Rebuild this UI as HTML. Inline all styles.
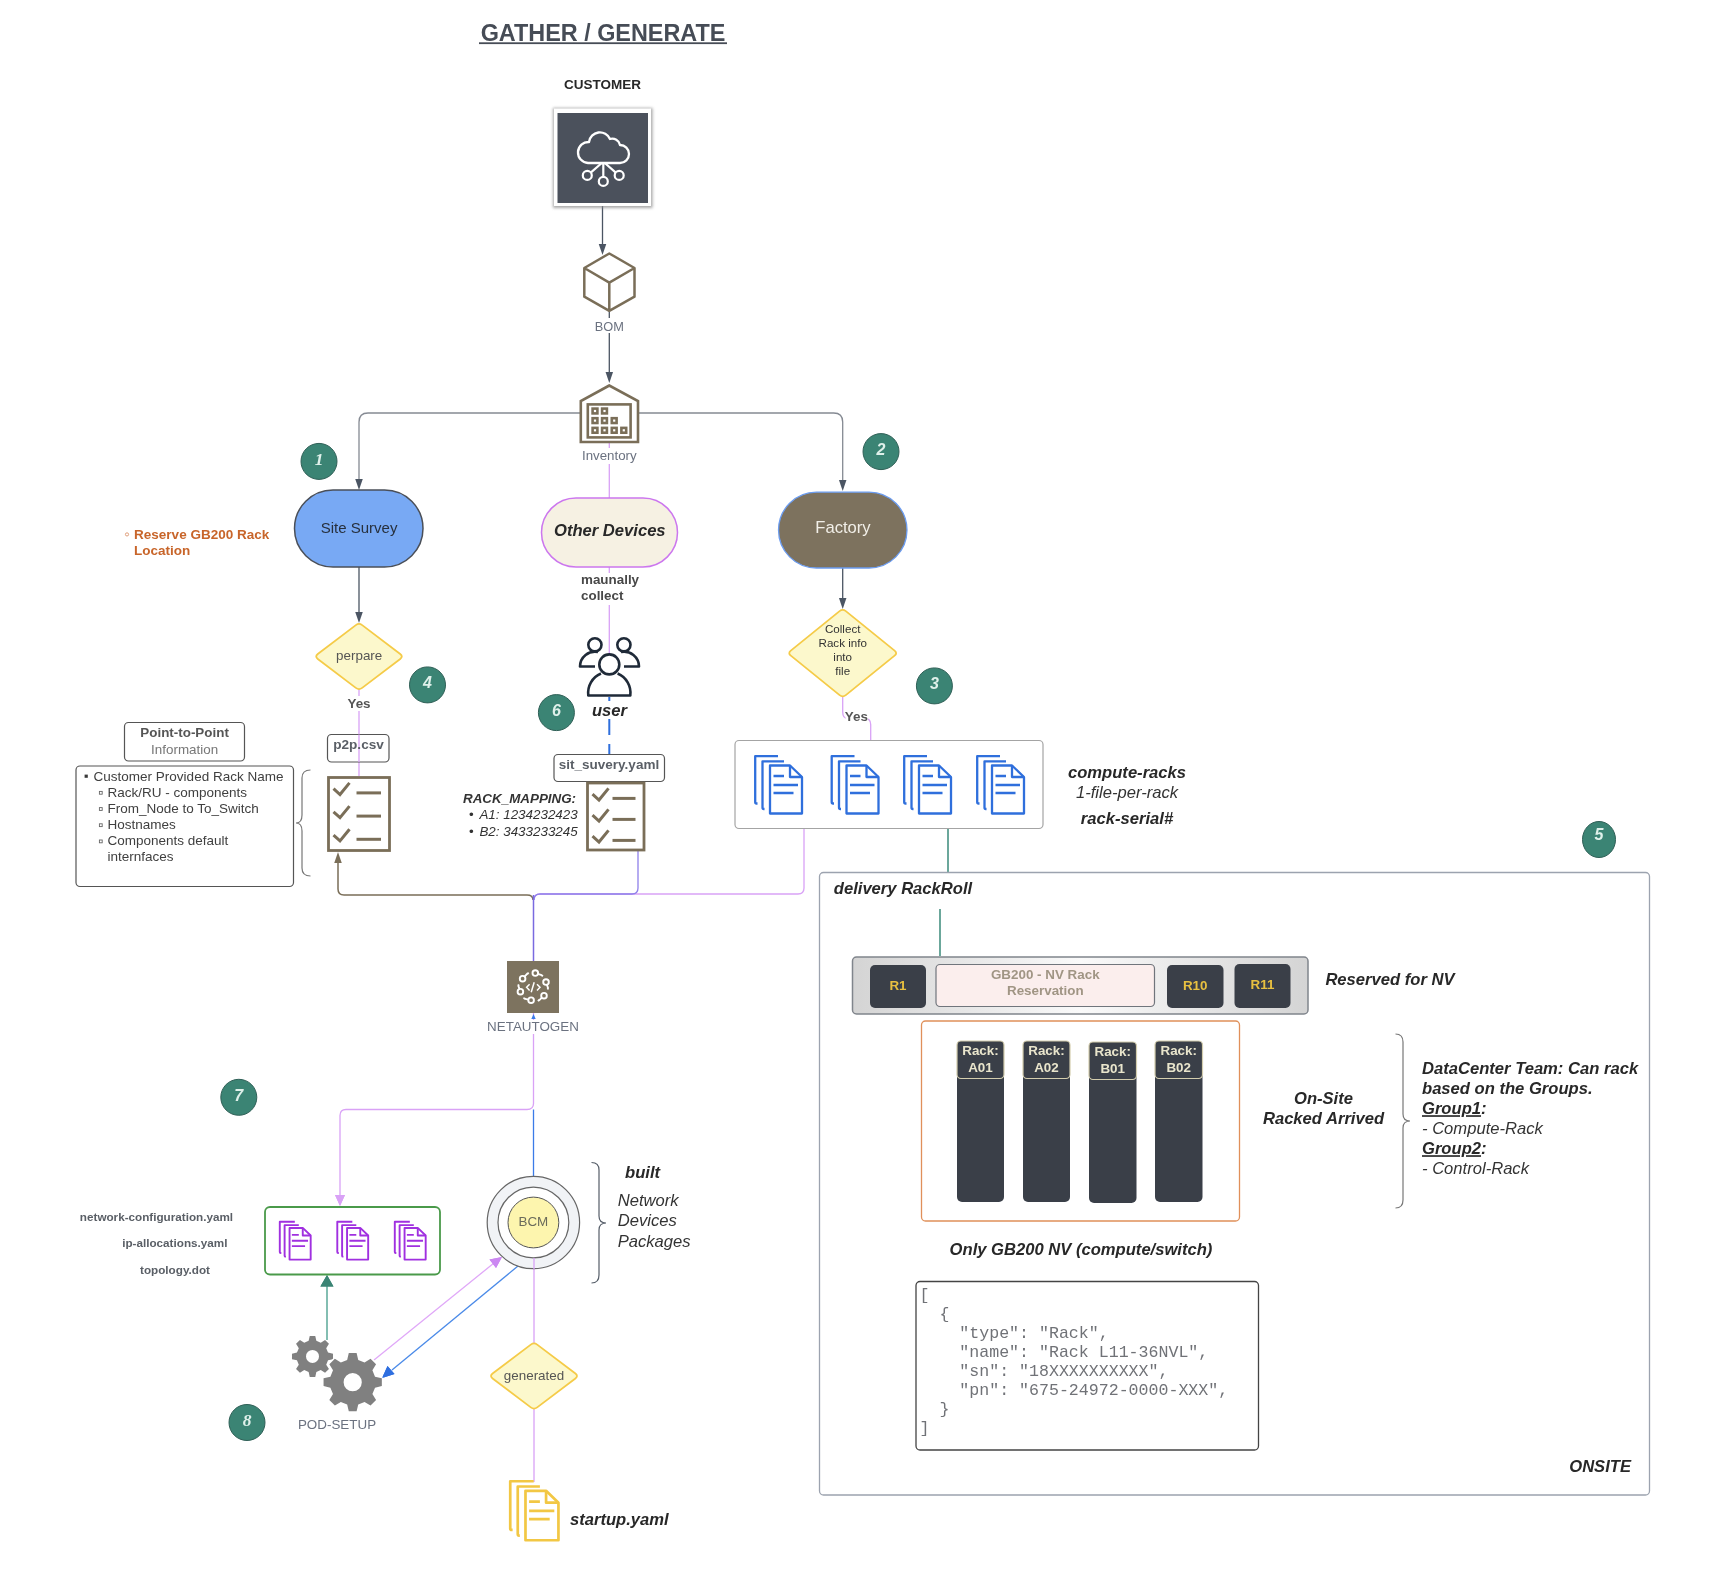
<!DOCTYPE html>
<html><head><meta charset="utf-8"><style>
html,body{margin:0;padding:0;background:#fff;}
svg{display:block;will-change:transform;}
text{font-family:"Liberation Sans",sans-serif;}
</style></head><body>
<svg width="1716" height="1596" viewBox="0 0 1716 1596">
<defs>
<filter id="blur" x="-10%" y="-10%" width="120%" height="120%"><feGaussianBlur stdDeviation="1.5"/></filter>
<linearGradient id="tray" x1="0" y1="0" x2="1" y2="0">
<stop offset="0" stop-color="#d4d4d4"/><stop offset="0.5" stop-color="#fafafa"/><stop offset="1" stop-color="#d4d4d4"/>
</linearGradient>
</defs>
<path d="M602.5,206 V246" stroke="#4b5563" stroke-width="1.3" fill="none"/>
<polygon points="598.75,244 606.25,244 602.5,255" fill="#4b5563"/>
<path d="M609.3,311 V374" stroke="#4b5563" stroke-width="1.3" fill="none"/>
<polygon points="605.55,372 613.05,372 609.3,383" fill="#4b5563"/>
<path d="M580,413 H368 Q359,413 359,422 V480" stroke="#858a93" stroke-width="1.3" fill="none"/>
<polygon points="355.25,479 362.75,479 359,490" fill="#4b5563"/>
<path d="M638,413 H833.7 Q842.7,413 842.7,422 V481" stroke="#858a93" stroke-width="1.3" fill="none"/>
<polygon points="838.95,480 846.45,480 842.7,491" fill="#4b5563"/>
<path d="M609.3,443 V498" stroke="#d9a2f6" stroke-width="1.3" fill="none"/>
<path d="M609.3,567 V653" stroke="#d9a2f6" stroke-width="1.3" fill="none"/>
<path d="M359,567 V613" stroke="#4b5563" stroke-width="1.3" fill="none"/>
<polygon points="355.25,612 362.75,612 359,623" fill="#4b5563"/>
<path d="M359,689 V776" stroke="#d9a2f6" stroke-width="1.3" fill="none"/>
<path d="M842.7,568 V599" stroke="#4b5563" stroke-width="1.3" fill="none"/>
<polygon points="838.95,598 846.45,598 842.7,609" fill="#4b5563"/>
<path d="M842.7,697 V712 Q842.7,718.5 848,718.5 H865 Q870.7,718.5 870.7,724.5 V740.5" stroke="#d9a2f6" stroke-width="1.3" fill="none"/>
<path d="M609.3,697 V754" stroke="#2f6fdc" stroke-width="2" stroke-dasharray="16,9" stroke-dashoffset="3" fill="none"/>
<path d="M804,828 V888 Q804,894 798,894 H540 Q534,894 534,900" stroke="#d9a2f6" stroke-width="1.3" fill="none"/>
<path d="M638,850 V888 Q638,894 632,894 H540 Q534,894 534,900" stroke="#8f80ea" stroke-width="1.3" fill="none"/>
<path d="M533,900 Q533,895 527,895 H344 Q338,895 338,889 V862" stroke="#7a6e58" stroke-width="1.5" fill="none"/>
<polygon points="334.25,863 341.75,863 338,852" fill="#7a6e58"/>
<path d="M533.5,895 V961" stroke="#7a6ae0" stroke-width="1.5" fill="none"/>
<path d="M948,828 V872" stroke="#3a8a7a" stroke-width="1.5" fill="none"/>
<path d="M940,909 V956" stroke="#3a8a7a" stroke-width="1.5" fill="none"/>
<path d="M533.5,1013 V1103.5 Q533.5,1109.5 527,1109.5 H346 Q340,1109.5 340,1115.5 V1196" stroke="#d9a2f6" stroke-width="1.3" fill="none"/>
<polygon points="335.0,1195 345.0,1195 340,1206" fill="#d9a2f6"/>
<path d="M533.5,1014 L531.3,1019 H535.7 Z" fill="#3b7be8"/>
<path d="M533.5,1109.5 V1176" stroke="#3b7be8" stroke-width="1.3" fill="none"/>
<path d="M534,1269 V1343 M534,1409 V1482" stroke="#d9a2f6" stroke-width="1.3" fill="none"/>
<path d="M327,1340 V1286" stroke="#5aa898" stroke-width="1.5" fill="none"/>
<polygon points="320.4,1286.6 333.5,1286.6 327,1275" fill="#3a8474"/>
<path d="M374,1360 L494,1263" stroke="#e0a8f8" stroke-width="1.3" fill="none"/>
<polygon points="502,1257 489.5,1259.5 496,1268" fill="#cc88f2"/>
<path d="M518,1266 L392,1370" stroke="#4a8ae8" stroke-width="1.3" fill="none"/>
<polygon points="382.1,1378 387.5,1366 394.5,1374" fill="#2f6fe0"/>
<text x="603" y="40.8" font-size="23.4" font-weight="bold" font-style="normal" fill="#464c56" text-anchor="middle" >GATHER / GENERATE</text>
<rect x="479" y="42.3" width="248" height="1.8" fill="#464c56"/>
<text x="602.5" y="88.8" font-size="13.5" font-weight="bold" font-style="normal" fill="#282828" text-anchor="middle" >CUSTOMER</text>
<rect x="553" y="108" width="99.5" height="100" fill="#8a8a8a" opacity="0.75" filter="url(#blur)"/>
<rect x="554" y="108.5" width="97" height="97.5" fill="#fff"/>
<rect x="557.5" y="113" width="90.5" height="90" fill="#4b515c"/>
<path d="M588,163 H620 A9,9 0 0,0 620,145 A8,8 0 0,0 610,139 A11,11 0 0,0 589,142 A10.5,10.5 0 0,0 588,163 Z" stroke="#fff" stroke-width="2.3" fill="none" stroke-linejoin="round"/>
<path d="M603.3,163 V176.6 M601.8,163 L591,172.4 M604.8,163 L615.5,172.4" stroke="#fff" stroke-width="2.2" fill="none"/>
<circle cx="587.3" cy="175.4" r="4.5" stroke="#fff" stroke-width="2.2" fill="none"/><circle cx="603.3" cy="181.4" r="4.5" stroke="#fff" stroke-width="2.2" fill="none"/><circle cx="619.2" cy="175.4" r="4.5" stroke="#fff" stroke-width="2.2" fill="none"/>
<path d="M609.3,253.5 L584.3,268 V296.7 L609.3,310.8 L634.5,296.7 V268 Z M584.3,268 L609.3,282.6 L634.5,268 M609.3,282.6 V310.8" stroke="#7a6e58" stroke-width="2.5" fill="#fff" stroke-linejoin="round"/>
<rect x="593" y="318" width="33" height="15" fill="#fff"/>
<text x="609.3" y="330.5" font-size="12.8" font-weight="normal" font-style="normal" fill="#6b7280" text-anchor="middle" >BOM</text>
<path d="M609.3,385.5 L580.8,401 V442 H638 V401 Z" stroke="#7a6e58" stroke-width="2.6" fill="#fff" stroke-linejoin="miter"/>
<rect x="587.8" y="404.4" width="42.8" height="33" stroke="#7a6e58" stroke-width="2.6" fill="none"/>
<rect x="592.6" y="408.6" width="4.8" height="4.8" stroke="#7a6e58" stroke-width="2.6" fill="none"/>
<rect x="602.1" y="408.6" width="4.8" height="4.8" stroke="#7a6e58" stroke-width="2.6" fill="none"/>
<rect x="592.6" y="418.20000000000005" width="4.8" height="4.8" stroke="#7a6e58" stroke-width="2.6" fill="none"/>
<rect x="602.1" y="418.20000000000005" width="4.8" height="4.8" stroke="#7a6e58" stroke-width="2.6" fill="none"/>
<rect x="611.8000000000001" y="418.20000000000005" width="4.8" height="4.8" stroke="#7a6e58" stroke-width="2.6" fill="none"/>
<rect x="592.6" y="427.90000000000003" width="4.8" height="4.8" stroke="#7a6e58" stroke-width="2.6" fill="none"/>
<rect x="602.1" y="427.90000000000003" width="4.8" height="4.8" stroke="#7a6e58" stroke-width="2.6" fill="none"/>
<rect x="611.8000000000001" y="427.90000000000003" width="4.8" height="4.8" stroke="#7a6e58" stroke-width="2.6" fill="none"/>
<rect x="621.4" y="427.90000000000003" width="4.8" height="4.8" stroke="#7a6e58" stroke-width="2.6" fill="none"/>
<rect x="579" y="448" width="60" height="16" fill="#fff"/>
<text x="609.3" y="460.4" font-size="13.3" font-weight="normal" font-style="normal" fill="#6b7280" text-anchor="middle" >Inventory</text>
<rect x="294.5" y="490" width="128.5" height="77" rx="38.5" fill="#78a9f4" stroke="#4a4f58" stroke-width="1.5"/>
<text x="359.1" y="532.7" font-size="15" font-weight="normal" font-style="normal" fill="#27303d" text-anchor="middle" >Site Survey</text>
<rect x="541.5" y="498" width="136" height="69" rx="34.5" fill="#f6f1e3" stroke="#cc77ee" stroke-width="1.5"/>
<text x="609.8" y="535.9" font-size="16.6" font-weight="bold" font-style="italic" fill="#282828" text-anchor="middle" >Other Devices</text>
<rect x="778.5" y="492.2" width="128.5" height="75.8" rx="37.9" fill="#7d725e" stroke="#6b9cf0" stroke-width="1.3"/>
<text x="843" y="533" font-size="16.6" font-weight="normal" font-style="normal" fill="#f2efe8" text-anchor="middle" >Factory</text>
<circle cx="127" cy="534.4" r="1.6" fill="none" stroke="#d88a60" stroke-width="0.8"/>
<text x="134.1" y="538.5" font-size="13.5" font-weight="bold" font-style="normal" fill="#c8652a" text-anchor="start" >Reserve GB200 Rack</text>
<text x="134.1" y="554.8" font-size="13.5" font-weight="bold" font-style="normal" fill="#c8652a" text-anchor="start" >Location</text>
<rect x="579" y="573" width="62" height="32" fill="#fff"/>
<text x="581" y="584.4" font-size="13.4" font-weight="bold" font-style="normal" fill="#484848" text-anchor="start" >maunally</text>
<text x="581" y="600.2" font-size="13.4" font-weight="bold" font-style="normal" fill="#484848" text-anchor="start" >collect</text>
<path d="M355.82,625.12 Q359.00,622.70 362.18,625.12 L400.22,654.08 Q403.40,656.50 400.22,658.92 L362.18,687.88 Q359.00,690.30 355.82,687.88 L317.78,658.92 Q314.60,656.50 317.78,654.08 Z" fill="#fcf8cc" stroke="#f5cb48" stroke-width="1.8" stroke-linejoin="round"/>
<text x="359.2" y="660.4" font-size="13.4" font-weight="normal" font-style="normal" fill="#555" text-anchor="middle" >perpare</text>
<rect x="345" y="696" width="28" height="15" fill="#fff"/>
<text x="359" y="708.2" font-size="13.4" font-weight="bold" font-style="normal" fill="#555" text-anchor="middle" >Yes</text>
<path d="M839.59,611.17 Q842.70,608.65 845.81,611.17 L894.59,650.63 Q897.70,653.15 894.59,655.67 L845.81,695.13 Q842.70,697.65 839.59,695.13 L790.81,655.67 Q787.70,653.15 790.81,650.63 Z" fill="#fcf8cc" stroke="#f5cb48" stroke-width="1.8" stroke-linejoin="round"/>
<text x="842.7" y="633.4" font-size="11.6" font-weight="normal" font-style="normal" fill="#333" text-anchor="middle" >Collect</text>
<text x="842.7" y="647.4" font-size="11.6" font-weight="normal" font-style="normal" fill="#333" text-anchor="middle" >Rack info</text>
<text x="842.7" y="661.4" font-size="11.6" font-weight="normal" font-style="normal" fill="#333" text-anchor="middle" >into</text>
<text x="842.7" y="675.4" font-size="11.6" font-weight="normal" font-style="normal" fill="#333" text-anchor="middle" >file</text>
<rect x="845.5" y="706" width="22.5" height="16" fill="#fff"/>
<text x="856.4" y="720.5" font-size="13.4" font-weight="bold" font-style="normal" fill="#555" text-anchor="middle" >Yes</text>
<g stroke="#1f2a38" stroke-width="2.6" fill="none" stroke-linejoin="round"><circle cx="594.9" cy="644.8" r="6.6"/><circle cx="623.9" cy="644.8" r="6.6"/><path d="M598,652 A15,15 0 0,0 580,666.5 H595"/><path d="M621,652 A15,15 0 0,1 639,666.5 H624"/><circle cx="609.3" cy="664.4" r="10"/><path d="M601,673.5 A21,21 0 0,0 588.3,695.5 H630.3 A21,21 0 0,0 617.6,673.5"/></g>
<rect x="590" y="701" width="40" height="18" fill="#fff"/>
<text x="609.5" y="716.2" font-size="16.6" font-weight="bold" font-style="italic" fill="#282828" text-anchor="middle" >user</text>
<circle cx="319" cy="461.4" r="18" fill="#3b8474" stroke="#2f5f56" stroke-width="1"/>
<text x="319" y="464.7" font-size="17.5" font-weight="bold" font-style="italic" fill="#dff0ea" text-anchor="middle" style="font-family:Liberation Serif">1</text>
<circle cx="881" cy="451.6" r="18" fill="#3b8474" stroke="#2f5f56" stroke-width="1"/>
<text x="881" y="454.90000000000003" font-size="16" font-weight="bold" font-style="italic" fill="#dff0ea" text-anchor="middle" >2</text>
<circle cx="934.4" cy="685.9" r="18" fill="#3b8474" stroke="#2f5f56" stroke-width="1"/>
<text x="934.4" y="689.1999999999999" font-size="16" font-weight="bold" font-style="italic" fill="#dff0ea" text-anchor="middle" >3</text>
<circle cx="427.5" cy="684.9" r="18" fill="#3b8474" stroke="#2f5f56" stroke-width="1"/>
<text x="427.5" y="688.1999999999999" font-size="16" font-weight="bold" font-style="italic" fill="#dff0ea" text-anchor="middle" >4</text>
<ellipse cx="1599" cy="839.5" rx="16.5" ry="18" fill="#3b8474" stroke="#2f5f56" stroke-width="1"/>
<text x="1599" y="839.5" font-size="16" font-weight="bold" font-style="italic" fill="#dff0ea" text-anchor="middle" >5</text>
<circle cx="556.4" cy="712.6" r="18" fill="#3b8474" stroke="#2f5f56" stroke-width="1"/>
<text x="556.4" y="715.9" font-size="16" font-weight="bold" font-style="italic" fill="#dff0ea" text-anchor="middle" >6</text>
<circle cx="238.8" cy="1097.3" r="18" fill="#3b8474" stroke="#2f5f56" stroke-width="1"/>
<text x="238.8" y="1100.6" font-size="16" font-weight="bold" font-style="italic" fill="#dff0ea" text-anchor="middle" >7</text>
<circle cx="247" cy="1422.5" r="18" fill="#3b8474" stroke="#2f5f56" stroke-width="1"/>
<text x="247" y="1425.8" font-size="17.5" font-weight="bold" font-style="italic" fill="#dff0ea" text-anchor="middle" style="font-family:Liberation Serif">8</text>
<rect x="124.5" y="722.5" width="120" height="38.5" rx="4" fill="#fff" stroke="#555" stroke-width="1.2"/>
<text x="184.6" y="737.3" font-size="13.4" font-weight="bold" font-style="normal" fill="#555" text-anchor="middle" >Point-to-Point</text>
<text x="184.6" y="753.7" font-size="13.4" font-weight="normal" font-style="normal" fill="#777" text-anchor="middle" >Information</text>
<rect x="76" y="766" width="217.5" height="120.5" rx="4" fill="#fff" stroke="#555" stroke-width="1.2"/>
<rect x="84.6" y="774.6" width="3.2" height="3.2" fill="#3a3a3a"/>
<text x="93.6" y="780.6" font-size="13.5" font-weight="normal" font-style="normal" fill="#404040" text-anchor="start" >Customer Provided Rack Name</text>
<rect x="99.4" y="791.4" width="2.8" height="2.8" fill="none" stroke="#666" stroke-width="0.9"/>
<text x="107.4" y="796.6" font-size="13.5" font-weight="normal" font-style="normal" fill="#404040" text-anchor="start" >Rack/RU - components</text>
<rect x="99.4" y="807.6" width="2.8" height="2.8" fill="none" stroke="#666" stroke-width="0.9"/>
<text x="107.4" y="812.8000000000001" font-size="13.5" font-weight="normal" font-style="normal" fill="#404040" text-anchor="start" >From_Node to To_Switch</text>
<rect x="99.4" y="823.8" width="2.8" height="2.8" fill="none" stroke="#666" stroke-width="0.9"/>
<text x="107.4" y="829.0" font-size="13.5" font-weight="normal" font-style="normal" fill="#404040" text-anchor="start" >Hostnames</text>
<rect x="99.4" y="840.0" width="2.8" height="2.8" fill="none" stroke="#666" stroke-width="0.9"/>
<text x="107.4" y="845.2" font-size="13.5" font-weight="normal" font-style="normal" fill="#404040" text-anchor="start" >Components default</text>
<text x="107.4" y="861.2" font-size="13.5" font-weight="normal" font-style="normal" fill="#404040" text-anchor="start" >internfaces</text>
<path d="M310.5,770 Q302,770 302,778 V815 Q302,823 296,823 Q302,823 302,831 V868 Q302,876 310.5,876" stroke="#777" stroke-width="1.2" fill="none"/>
<rect x="327.5" y="734.5" width="61.5" height="27.5" rx="4" fill="#fff" stroke="#555" stroke-width="1.2"/>
<path d="M359,734.5 V762" stroke="#d9a2f6" stroke-width="1.3"/>
<text x="358.5" y="749.3" font-size="13.6" font-weight="bold" font-style="normal" fill="#5a5f66" text-anchor="middle" >p2p.csv</text>
<rect x="554" y="754.5" width="110.5" height="27" rx="4" fill="#fff" stroke="#555" stroke-width="1.2"/>
<text x="609" y="768.9" font-size="13.5" font-weight="bold" font-style="normal" fill="#5a5f66" text-anchor="middle" >sit_suvery.yaml</text>
<rect x="328.5" y="777.5" width="61" height="73" stroke="#7a6e58" stroke-width="2.8" fill="#fff"/>
<path d="M333.5,788.6999999999999 L340.0,794.5 L349.5,782.9" stroke="#7a6e58" stroke-width="3" fill="none"/>
<path d="M356.5,792.9 H381.0" stroke="#7a6e58" stroke-width="3" fill="none"/>
<path d="M333.5,811.9 L340.0,817.7 L349.5,806.1" stroke="#7a6e58" stroke-width="3" fill="none"/>
<path d="M356.5,816.1 H381.0" stroke="#7a6e58" stroke-width="3" fill="none"/>
<path d="M333.5,835.0999999999999 L340.0,840.9 L349.5,829.3" stroke="#7a6e58" stroke-width="3" fill="none"/>
<path d="M356.5,839.3 H381.0" stroke="#7a6e58" stroke-width="3" fill="none"/>
<rect x="587.5" y="783" width="56.5" height="67" stroke="#7a6e58" stroke-width="2.8" fill="#fff"/>
<path d="M592.5,794.1999999999999 L599.0,800.0 L608.5,788.4" stroke="#7a6e58" stroke-width="3" fill="none"/>
<path d="M612.5,798.4 H635.5" stroke="#7a6e58" stroke-width="3" fill="none"/>
<path d="M592.5,815.1999999999999 L599.0,821.0 L608.5,809.4" stroke="#7a6e58" stroke-width="3" fill="none"/>
<path d="M612.5,819.4 H635.5" stroke="#7a6e58" stroke-width="3" fill="none"/>
<path d="M592.5,836.1999999999999 L599.0,842.0 L608.5,830.4" stroke="#7a6e58" stroke-width="3" fill="none"/>
<path d="M612.5,840.4 H635.5" stroke="#7a6e58" stroke-width="3" fill="none"/>
<text x="463" y="803.4" font-size="13.4" font-weight="bold" font-style="italic" fill="#333" text-anchor="start" >RACK_MAPPING:</text>
<text x="469" y="819.4" font-size="13.4" font-weight="normal" font-style="normal" fill="#333" text-anchor="start" >•</text>
<text x="479.4" y="819.4" font-size="13.4" font-weight="normal" font-style="italic" fill="#333" text-anchor="start" >A1: 1234232423</text>
<text x="469" y="835.8" font-size="13.4" font-weight="normal" font-style="normal" fill="#333" text-anchor="start" >•</text>
<text x="479.4" y="835.8" font-size="13.4" font-weight="normal" font-style="italic" fill="#333" text-anchor="start" >B2: 3433233245</text>
<rect x="735" y="740.5" width="308" height="88" rx="4" fill="#fff" stroke="#a4a4a4" stroke-width="1.2"/>
<g transform="translate(754,755) scale(1.0)" stroke="#2f6fdc" stroke-width="2.3" fill="#fff" stroke-linejoin="round"><path d="M3.5,48.5 H2.5 Q1.2,48.5 1.2,47 V1.2 H24" fill="none"/><path d="M10.5,54 H9.8 Q8.5,54 8.5,52.5 V6.3 H30" fill="none"/><path d="M16,10.5 H36 L48,22 V58.5 H16 Z"/><path d="M36,10.5 V22 H48" fill="none"/><path d="M19.5,21 H30 M19.5,30 H44 M19.5,38 H39.5" fill="none"/></g>
<g transform="translate(830.5,755) scale(1.0)" stroke="#2f6fdc" stroke-width="2.3" fill="#fff" stroke-linejoin="round"><path d="M3.5,48.5 H2.5 Q1.2,48.5 1.2,47 V1.2 H24" fill="none"/><path d="M10.5,54 H9.8 Q8.5,54 8.5,52.5 V6.3 H30" fill="none"/><path d="M16,10.5 H36 L48,22 V58.5 H16 Z"/><path d="M36,10.5 V22 H48" fill="none"/><path d="M19.5,21 H30 M19.5,30 H44 M19.5,38 H39.5" fill="none"/></g>
<g transform="translate(903,755) scale(1.0)" stroke="#2f6fdc" stroke-width="2.3" fill="#fff" stroke-linejoin="round"><path d="M3.5,48.5 H2.5 Q1.2,48.5 1.2,47 V1.2 H24" fill="none"/><path d="M10.5,54 H9.8 Q8.5,54 8.5,52.5 V6.3 H30" fill="none"/><path d="M16,10.5 H36 L48,22 V58.5 H16 Z"/><path d="M36,10.5 V22 H48" fill="none"/><path d="M19.5,21 H30 M19.5,30 H44 M19.5,38 H39.5" fill="none"/></g>
<g transform="translate(976,755) scale(1.0)" stroke="#2f6fdc" stroke-width="2.3" fill="#fff" stroke-linejoin="round"><path d="M3.5,48.5 H2.5 Q1.2,48.5 1.2,47 V1.2 H24" fill="none"/><path d="M10.5,54 H9.8 Q8.5,54 8.5,52.5 V6.3 H30" fill="none"/><path d="M16,10.5 H36 L48,22 V58.5 H16 Z"/><path d="M36,10.5 V22 H48" fill="none"/><path d="M19.5,21 H30 M19.5,30 H44 M19.5,38 H39.5" fill="none"/></g>
<text x="1127" y="778" font-size="16.6" font-weight="bold" font-style="italic" fill="#282828" text-anchor="middle" >compute-racks</text>
<text x="1127" y="798.4" font-size="16.6" font-weight="normal" font-style="italic" fill="#333" text-anchor="middle" >1-file-per-rack</text>
<text x="1127" y="823.5" font-size="16.6" font-weight="bold" font-style="italic" fill="#282828" text-anchor="middle" >rack-serial#</text>
<rect x="819.5" y="872.5" width="830" height="622.5" rx="4" fill="none" stroke="#9ca3af" stroke-width="1.3"/>
<text x="833.8" y="894.3" font-size="16.6" font-weight="bold" font-style="italic" fill="#282828" text-anchor="start" >delivery RackRoll</text>
<rect x="852.5" y="957" width="455.5" height="57" rx="4" fill="url(#tray)" stroke="#80858c" stroke-width="1.5"/>
<rect x="870" y="965" width="56" height="43" rx="5" fill="#3a3f48"/>
<text x="898.0" y="989.8" font-size="13.4" font-weight="bold" font-style="normal" fill="#e8c040" text-anchor="middle" >R1</text>
<rect x="1167" y="965" width="56.5" height="43" rx="5" fill="#3a3f48"/>
<text x="1195.25" y="989.8" font-size="13.4" font-weight="bold" font-style="normal" fill="#e8c040" text-anchor="middle" >R10</text>
<rect x="1234.5" y="964" width="56" height="44" rx="5" fill="#3a3f48"/>
<text x="1262.5" y="988.9" font-size="13.4" font-weight="bold" font-style="normal" fill="#e8c040" text-anchor="middle" >R11</text>
<rect x="936" y="964.5" width="218.5" height="42" rx="4" fill="#fbeeed" stroke="#70757c" stroke-width="1.2"/>
<text x="1045.3" y="978.6" font-size="13.4" font-weight="bold" font-style="normal" fill="#a09584" text-anchor="middle" >GB200 - NV Rack</text>
<text x="1045.3" y="995" font-size="13.4" font-weight="bold" font-style="normal" fill="#a09584" text-anchor="middle" >Reservation</text>
<text x="1325.4" y="985.4" font-size="16.6" font-weight="bold" font-style="italic" fill="#282828" text-anchor="start" >Reserved for NV</text>
<rect x="921.5" y="1021" width="318" height="200" rx="4" fill="#fff" stroke="#e0905a" stroke-width="1.3"/>
<rect x="957" y="1041" width="47" height="161" rx="5" fill="#3a3f48"/>
<rect x="957" y="1041" width="47" height="37.5" rx="4" fill="#3a3f48" stroke="#d4ceae" stroke-width="1.2"/>
<text x="980.5" y="1055" font-size="13.4" font-weight="bold" font-style="normal" fill="#e9e5cc" text-anchor="middle" >Rack:</text>
<text x="980.5" y="1071.8" font-size="13.4" font-weight="bold" font-style="normal" fill="#e9e5cc" text-anchor="middle" >A01</text>
<rect x="1023" y="1041" width="47" height="161" rx="5" fill="#3a3f48"/>
<rect x="1023" y="1041" width="47" height="37.5" rx="4" fill="#3a3f48" stroke="#d4ceae" stroke-width="1.2"/>
<text x="1046.5" y="1055" font-size="13.4" font-weight="bold" font-style="normal" fill="#e9e5cc" text-anchor="middle" >Rack:</text>
<text x="1046.5" y="1071.8" font-size="13.4" font-weight="bold" font-style="normal" fill="#e9e5cc" text-anchor="middle" >A02</text>
<rect x="1089" y="1042" width="47.5" height="161" rx="5" fill="#3a3f48"/>
<rect x="1089" y="1042" width="47.5" height="37.5" rx="4" fill="#3a3f48" stroke="#d4ceae" stroke-width="1.2"/>
<text x="1112.75" y="1056" font-size="13.4" font-weight="bold" font-style="normal" fill="#e9e5cc" text-anchor="middle" >Rack:</text>
<text x="1112.75" y="1072.8" font-size="13.4" font-weight="bold" font-style="normal" fill="#e9e5cc" text-anchor="middle" >B01</text>
<rect x="1155" y="1041" width="47.5" height="161" rx="5" fill="#3a3f48"/>
<rect x="1155" y="1041" width="47.5" height="37.5" rx="4" fill="#3a3f48" stroke="#d4ceae" stroke-width="1.2"/>
<text x="1178.75" y="1055" font-size="13.4" font-weight="bold" font-style="normal" fill="#e9e5cc" text-anchor="middle" >Rack:</text>
<text x="1178.75" y="1071.8" font-size="13.4" font-weight="bold" font-style="normal" fill="#e9e5cc" text-anchor="middle" >B02</text>
<text x="1323.5" y="1103.5" font-size="16.6" font-weight="bold" font-style="italic" fill="#282828" text-anchor="middle" >On-Site</text>
<text x="1323.5" y="1123.5" font-size="16.6" font-weight="bold" font-style="italic" fill="#282828" text-anchor="middle" >Racked Arrived</text>
<path d="M1395.5,1034 Q1403,1034 1403,1042 V1114 Q1403,1121 1410,1121 Q1403,1121 1403,1128 V1200 Q1403,1208 1395.5,1208" stroke="#777" stroke-width="1.2" fill="none"/>
<text x="1422" y="1074.2" font-size="16.6" font-weight="bold" font-style="italic" fill="#282828" text-anchor="start" >DataCenter Team: Can rack</text>
<text x="1422" y="1094.2" font-size="16.6" font-weight="bold" font-style="italic" fill="#282828" text-anchor="start" >based on the Groups.</text>
<text x="1422" y="1114.2" font-size="16.6" font-weight="bold" font-style="italic" fill="#282828" text-anchor="start" ><tspan text-decoration="underline">Group1</tspan>:</text>
<text x="1422" y="1134.2" font-size="16.6" font-weight="normal" font-style="italic" fill="#333" text-anchor="start" >- Compute-Rack</text>
<text x="1422" y="1154.2" font-size="16.6" font-weight="bold" font-style="italic" fill="#282828" text-anchor="start" ><tspan text-decoration="underline">Group2</tspan>:</text>
<text x="1422" y="1174.2" font-size="16.6" font-weight="normal" font-style="italic" fill="#333" text-anchor="start" >- Control-Rack</text>
<text x="1081" y="1254.6" font-size="16.6" font-weight="bold" font-style="italic" fill="#282828" text-anchor="middle" >Only GB200 NV (compute/switch)</text>
<rect x="916" y="1281.5" width="342.5" height="168.5" rx="4" fill="#fff" stroke="#444" stroke-width="1.3"/>
<text x="919.5" y="1299.5" font-size="16.6" style="font-family:Liberation Mono" fill="#707277" xml:space="preserve">[</text>
<text x="919.5" y="1318.5" font-size="16.6" style="font-family:Liberation Mono" fill="#707277" xml:space="preserve">  {</text>
<text x="919.5" y="1337.5" font-size="16.6" style="font-family:Liberation Mono" fill="#707277" xml:space="preserve">    "type": "Rack",</text>
<text x="919.5" y="1356.5" font-size="16.6" style="font-family:Liberation Mono" fill="#707277" xml:space="preserve">    "name": "Rack L11-36NVL",</text>
<text x="919.5" y="1375.5" font-size="16.6" style="font-family:Liberation Mono" fill="#707277" xml:space="preserve">    "sn": "18XXXXXXXXXX",</text>
<text x="919.5" y="1394.5" font-size="16.6" style="font-family:Liberation Mono" fill="#707277" xml:space="preserve">    "pn": "675-24972-0000-XXX",</text>
<text x="919.5" y="1413.5" font-size="16.6" style="font-family:Liberation Mono" fill="#707277" xml:space="preserve">  }</text>
<text x="919.5" y="1432.5" font-size="16.6" style="font-family:Liberation Mono" fill="#707277" xml:space="preserve">]</text>
<text x="1631" y="1472.3" font-size="16.6" font-weight="bold" font-style="italic" fill="#282828" text-anchor="end" >ONSITE</text>
<rect x="507" y="961" width="52" height="52" fill="#7d735f"/>
<g stroke="#fff" stroke-width="1.9" fill="none" stroke-linecap="butt"><path d="M529.6,984.2 L526.6,987.3 L529.6,990.4 M537,984.2 L540,987.3 L537,990.4 M534.2,982.3 L531.2,992.3" stroke-width="1.5"/><circle cx="522.6" cy="978.7" r="2.8"/><path d="M524.52,976.67 L527.8,973.2 M528.67,974.02 L527.36,972.79"/><circle cx="535.3" cy="973.1" r="2.8"/><path d="M537.97,973.94 L542.3,975.3 M541.94,976.44 L542.48,974.73"/><circle cx="546" cy="982.1" r="2.8"/><path d="M546.91,984.75 L548.2,988.5 M547.07,988.89 L548.77,988.30"/><circle cx="544" cy="995.7" r="2.8"/><path d="M541.96,997.62 L538.8,1000.6 M537.98,999.73 L539.21,1001.04"/><circle cx="531.1" cy="1000.2" r="2.8"/><path d="M528.37,999.57 L524.2,998.6 M524.47,997.43 L524.06,999.18"/><circle cx="520.4" cy="991.7" r="2.8"/><path d="M519.48,989.06 L518.2,985.4 M519.33,985.00 L517.63,985.60"/></g>
<rect x="486" y="1020" width="95" height="14" fill="#fff"/>
<text x="533" y="1030.8" font-size="13.4" font-weight="normal" font-style="normal" fill="#6b7280" text-anchor="middle" >NETAUTOGEN</text>
<rect x="265" y="1207" width="175" height="67.5" rx="5" fill="#fff" stroke="#4a9a4a" stroke-width="1.8"/>
<polygon points="335.0,1195 345.0,1195 340,1206" fill="#d9a2f6"/>
<g transform="translate(279,1221) scale(0.66)" stroke="#a030e0" stroke-width="2.8787878787878785" fill="#fff" stroke-linejoin="round"><path d="M3.5,48.5 H2.5 Q1.2,48.5 1.2,47 V1.2 H24" fill="none"/><path d="M10.5,54 H9.8 Q8.5,54 8.5,52.5 V6.3 H30" fill="none"/><path d="M16,10.5 H36 L48,22 V58.5 H16 Z"/><path d="M36,10.5 V22 H48" fill="none"/><path d="M19.5,21 H30 M19.5,30 H44 M19.5,38 H39.5" fill="none"/></g>
<g transform="translate(336.5,1221) scale(0.66)" stroke="#a030e0" stroke-width="2.8787878787878785" fill="#fff" stroke-linejoin="round"><path d="M3.5,48.5 H2.5 Q1.2,48.5 1.2,47 V1.2 H24" fill="none"/><path d="M10.5,54 H9.8 Q8.5,54 8.5,52.5 V6.3 H30" fill="none"/><path d="M16,10.5 H36 L48,22 V58.5 H16 Z"/><path d="M36,10.5 V22 H48" fill="none"/><path d="M19.5,21 H30 M19.5,30 H44 M19.5,38 H39.5" fill="none"/></g>
<g transform="translate(394,1221) scale(0.66)" stroke="#a030e0" stroke-width="2.8787878787878785" fill="#fff" stroke-linejoin="round"><path d="M3.5,48.5 H2.5 Q1.2,48.5 1.2,47 V1.2 H24" fill="none"/><path d="M10.5,54 H9.8 Q8.5,54 8.5,52.5 V6.3 H30" fill="none"/><path d="M16,10.5 H36 L48,22 V58.5 H16 Z"/><path d="M36,10.5 V22 H48" fill="none"/><path d="M19.5,21 H30 M19.5,30 H44 M19.5,38 H39.5" fill="none"/></g>
<text x="156.5" y="1220.8" font-size="11.7" font-weight="bold" font-style="normal" fill="#5a5f66" text-anchor="middle" >network-configuration.yaml</text>
<text x="174.8" y="1246.5" font-size="11.7" font-weight="bold" font-style="normal" fill="#5a5f66" text-anchor="middle" >ip-allocations.yaml</text>
<text x="175" y="1274.2" font-size="11.7" font-weight="bold" font-style="normal" fill="#5a5f66" text-anchor="middle" >topology.dot</text>
<polygon points="320.4,1286.6 333.5,1286.6 327,1275" fill="#3a8474"/>
<circle cx="533.4" cy="1222.5" r="46.2" fill="#f1f3f6" stroke="#666" stroke-width="1.2"/>
<circle cx="533.4" cy="1222.5" r="35.4" fill="#fff" stroke="#666" stroke-width="1.2"/>
<circle cx="533.4" cy="1222.5" r="25.4" fill="#fdf5ae" stroke="#555" stroke-width="1"/>
<path d="M534,1258 V1269" stroke="#d9a2f6" stroke-width="1.3"/>
<text x="533.4" y="1225.6" font-size="13.4" font-weight="normal" font-style="normal" fill="#6b6b5b" text-anchor="middle" >BCM</text>
<polygon points="502,1257 489.5,1259.5 496,1268" fill="#cc88f2"/>
<path d="M591.5,1162.5 Q599,1162.5 599,1170 V1216 Q599,1223 606,1223 Q599,1223 599,1230 V1275 Q599,1283 591.5,1283" stroke="#555d68" stroke-width="1.2" fill="none"/>
<text x="625" y="1178" font-size="16.6" font-weight="bold" font-style="italic" fill="#282828" text-anchor="start" >built</text>
<text x="617.7" y="1206" font-size="16.6" font-weight="normal" font-style="italic" fill="#333" text-anchor="start" >Network</text>
<text x="617.7" y="1226.4" font-size="16.6" font-weight="normal" font-style="italic" fill="#333" text-anchor="start" >Devices</text>
<text x="617.7" y="1246.8" font-size="16.6" font-weight="normal" font-style="italic" fill="#333" text-anchor="start" >Packages</text>
<path d="M308.64,1340.87 L309.74,1335.88 L315.26,1335.88 L316.36,1340.87 L320.75,1342.69 L325.06,1339.94 L328.96,1343.84 L326.21,1348.15 L328.03,1352.54 L333.02,1353.64 L333.02,1359.16 L328.03,1360.26 L326.21,1364.65 L328.96,1368.96 L325.06,1372.86 L320.75,1370.11 L316.36,1371.93 L315.26,1376.92 L309.74,1376.92 L308.64,1371.93 L304.25,1370.11 L299.94,1372.86 L296.04,1368.96 L298.79,1364.65 L296.97,1360.26 L291.98,1359.16 L291.98,1353.64 L296.97,1352.54 L298.79,1348.15 L296.04,1343.84 L299.94,1339.94 L304.25,1342.69 Z M306.00,1356.40 a6.50,6.50 0 1,0 13.00,0 a6.50,6.50 0 1,0 -13.00,0 Z" fill="#808080" fill-rule="evenodd"/>
<path d="M347.16,1359.88 L348.79,1353.06 L356.61,1353.06 L358.24,1359.88 L364.56,1362.50 L370.54,1358.83 L376.07,1364.36 L372.40,1370.34 L375.02,1376.66 L381.84,1378.29 L381.84,1386.11 L375.02,1387.74 L372.40,1394.06 L376.07,1400.04 L370.54,1405.57 L364.56,1401.90 L358.24,1404.52 L356.61,1411.34 L348.79,1411.34 L347.16,1404.52 L340.84,1401.90 L334.86,1405.57 L329.33,1400.04 L333.00,1394.06 L330.38,1387.74 L323.56,1386.11 L323.56,1378.29 L330.38,1376.66 L333.00,1370.34 L329.33,1364.36 L334.86,1358.83 L340.84,1362.50 Z M343.60,1382.20 a9.10,9.10 0 1,0 18.20,0 a9.10,9.10 0 1,0 -18.20,0 Z" fill="#808080" fill-rule="evenodd" stroke="#fff" stroke-width="3" paint-order="stroke"/>
<polygon points="382.1,1378 387.5,1366 394.5,1374" fill="#2f6fe0"/>
<text x="337" y="1429" font-size="13.4" font-weight="normal" font-style="normal" fill="#6b7280" text-anchor="middle" >POD-SETUP</text>
<path d="M530.81,1344.62 Q534.00,1342.20 537.19,1344.62 L575.41,1373.58 Q578.60,1376.00 575.41,1378.42 L537.19,1407.38 Q534.00,1409.80 530.81,1407.38 L492.59,1378.42 Q489.40,1376.00 492.59,1373.58 Z" fill="#fcf8cc" stroke="#f5cb48" stroke-width="1.8" stroke-linejoin="round"/>
<text x="534" y="1379.7" font-size="13.4" font-weight="normal" font-style="normal" fill="#555" text-anchor="middle" >generated</text>
<g transform="translate(509,1480) scale(1.03)" stroke="#f2c744" stroke-width="2.621359223300971" fill="#fff" stroke-linejoin="round"><path d="M3.5,48.5 H2.5 Q1.2,48.5 1.2,47 V1.2 H24" fill="none"/><path d="M10.5,54 H9.8 Q8.5,54 8.5,52.5 V6.3 H30" fill="none"/><path d="M16,10.5 H36 L48,22 V58.5 H16 Z"/><path d="M36,10.5 V22 H48" fill="none"/><path d="M19.5,21 H30 M19.5,30 H44 M19.5,38 H39.5" fill="none"/></g>
<text x="570" y="1525" font-size="16.6" font-weight="bold" font-style="italic" fill="#282828" text-anchor="start" >startup.yaml</text>
</svg>
</body></html>
